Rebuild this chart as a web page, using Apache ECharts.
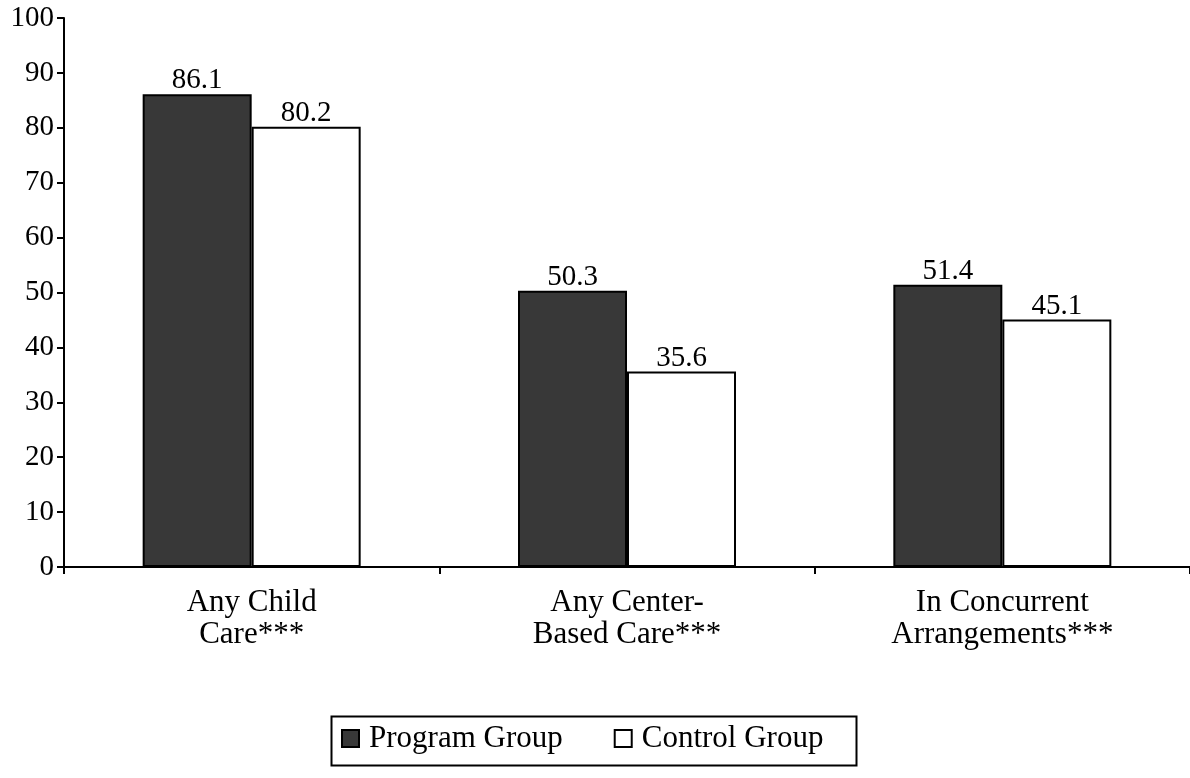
<!DOCTYPE html>
<html>
<head>
<meta charset="utf-8">
<script src="https://cdn.jsdelivr.net/npm/echarts@6/dist/echarts.min.js"></script>
<style>
  html, body { margin: 0; padding: 0; background: #fff; }
  #chart { width: 1190px; height: 778px; }
</style>
</head>
<body>
<div id="chart"></div>
<script>
const categories = ['Any Child\nCare***', 'Any Center-\nBased Care***', 'In Concurrent\nArrangements***'];
const programGroup = [86.1, 50.3, 51.4];
const controlGroup = [80.2, 35.6, 45.1];
const yTicks = { min: 0, max: 100, interval: 10 };

const font = 'Liberation Serif, Times New Roman, serif';
const chart = echarts.init(document.getElementById('chart'), null, { renderer: 'canvas' });

const labelStyle = {
  show: true,
  position: 'top',
  distance: -1,
  color: '#000',
  fontFamily: font,
  fontSize: 29,
  formatter: p => p.value.toFixed(1)
};

chart.setOption({
  animation: false,
  backgroundColor: '#fff',
  grid: { left: 64, right: -2, top: 18, bottom: 211, containLabel: false },
  xAxis: {
    type: 'category',
    data: categories,
    axisLine: { lineStyle: { color: '#000', width: 2 } },
    axisTick: { show: true, alignWithLabel: false, length: 7, lineStyle: { color: '#000', width: 2 } },
    axisLabel: {
      color: '#000', fontFamily: font, fontSize: 31, lineHeight: 32, margin: 20
    },
    splitLine: { show: false }
  },
  yAxis: {
    type: 'value',
    min: yTicks.min, max: yTicks.max, interval: yTicks.interval,
    axisLine: { show: true, lineStyle: { color: '#000', width: 2 } },
    axisTick: { show: true, length: 7, lineStyle: { color: '#000', width: 2 } },
    axisLabel: { color: '#000', fontFamily: font, fontSize: 29, margin: 10 },
    splitLine: { show: false }
  },
  graphic: [{
    type: 'rect',
    left: 329,
    top: 714,
    shape: { width: 525, height: 49 },
    style: { fill: 'none', stroke: '#000', lineWidth: 2 },
    silent: true
  }],
  legend: {
    left: 341,
    top: 723,
    icon: 'rect',
    itemWidth: 17,
    itemHeight: 17,
    itemGap: 51,
    padding: 0,
    textStyle: { color: '#000', fontFamily: font, fontSize: 31, padding: [0, 0, 0, 5] },
    data: [
      { name: 'Program Group', itemStyle: { color: '#383838', borderColor: '#000', borderWidth: 2 } },
      { name: 'Control Group', itemStyle: { color: '#fff', borderColor: '#000', borderWidth: 2 } }
    ]
  },
  series: [
    {
      name: 'Program Group',
      type: 'bar',
      data: programGroup,
      barWidth: 109,
      barGap: '0%',
      itemStyle: { color: '#383838', borderColor: '#000', borderWidth: 2 },
      label: labelStyle
    },
    {
      name: 'Control Group',
      type: 'bar',
      data: controlGroup,
      barWidth: 109,
      itemStyle: { color: '#fff', borderColor: '#000', borderWidth: 2 },
      label: labelStyle
    }
  ]
});
</script>
</body>
</html>
